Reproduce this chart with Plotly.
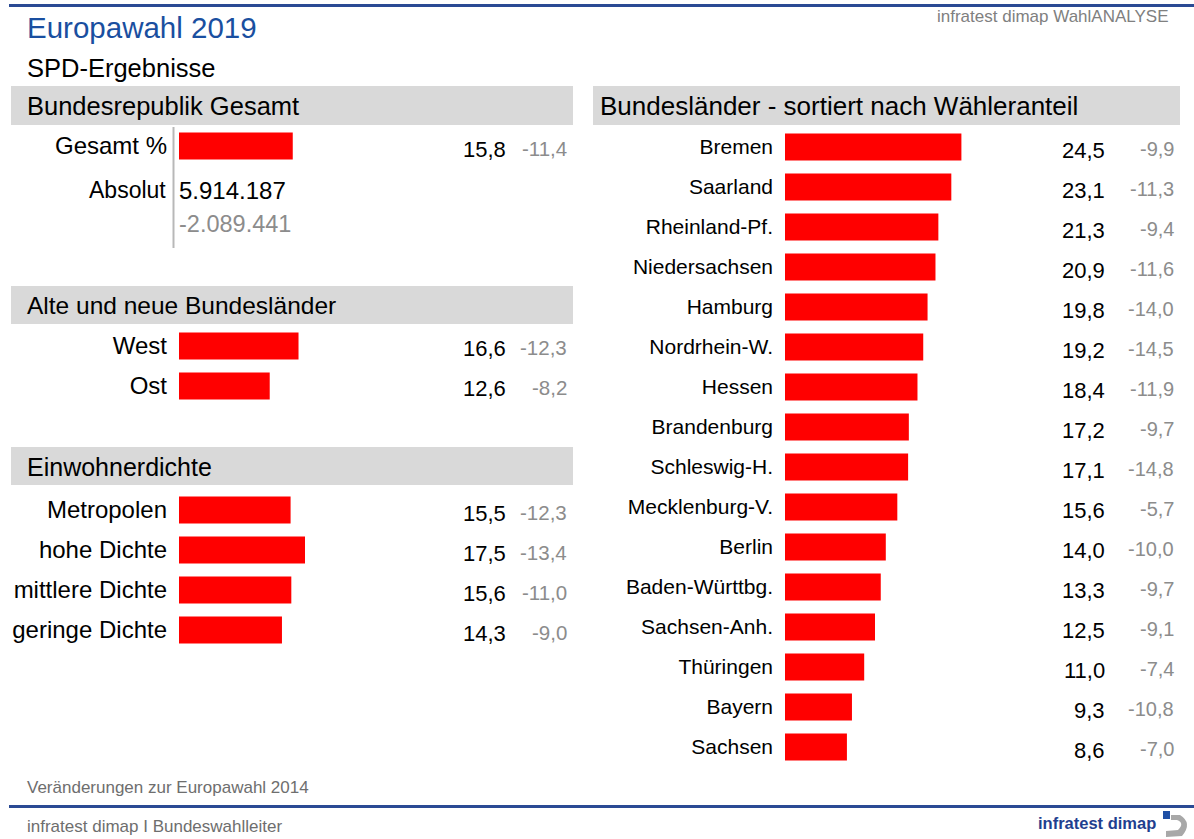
import plotly.graph_objects as go

# ---------------- data ----------------
gesamt_labels = ["Gesamt %"]
gesamt_values = [15.8]
gesamt_changes = [-11.4]
absolut_value = "5.914.187"
absolut_change = "-2.089.441"

ostwest_labels = ["West", "Ost"]
ostwest_values = [16.6, 12.6]
ostwest_changes = [-12.3, -8.2]

dichte_labels = ["Metropolen", "hohe Dichte", "mittlere Dichte", "geringe Dichte"]
dichte_values = [15.5, 17.5, 15.6, 14.3]
dichte_changes = [-12.3, -13.4, -11.0, -9.0]

laender_labels = ["Bremen", "Saarland", "Rheinland-Pf.", "Niedersachsen", "Hamburg",
                  "Nordrhein-W.", "Hessen", "Brandenburg", "Schleswig-H.",
                  "Mecklenburg-V.", "Berlin", "Baden-Württbg.", "Sachsen-Anh.",
                  "Thüringen", "Bayern", "Sachsen"]
laender_values = [24.5, 23.1, 21.3, 20.9, 19.8, 19.2, 18.4, 17.2, 17.1, 15.6,
                  14.0, 13.3, 12.5, 11.0, 9.3, 8.6]
laender_changes = [-9.9, -11.3, -9.4, -11.6, -14.0, -14.5, -11.9, -9.7, -14.8,
                   -5.7, -10.0, -9.7, -9.1, -7.4, -10.8, -7.0]

# ---------------- layout helpers ----------------
W, H = 1194, 839
FONT = "Liberation Sans, Arial, sans-serif"
RED = "#ff0000"
GREYBOX = "#d9d9d9"
GREYTXT = "#8c8c8c"
BLUE = "#2a4a94"


def px(x):
    return x / W


def py(y):
    return 1 - y / H


def fmt(v):
    return f"{v:.1f}".replace(".", ",")


fig = go.Figure()

XMAX = 40  # range of value axes

sections = [
    # labels, values, changes, ydomain px, x start px, value right px, change right px,
    # label size, value size, change size
    (gesamt_labels, gesamt_values, gesamt_changes, (126, 166), 179, 508, 569, 24, 22, 20.5),
    (ostwest_labels, ostwest_values, ostwest_changes, (326, 406), 179, 508, 569, 24, 22, 20.5),
    (dichte_labels, dichte_values, dichte_changes, (490, 650), 179, 508, 569, 24, 22, 20.5),
    (laender_labels, laender_values, laender_changes, (127, 767), 785, 1107, 1176, 21, 22, 20),
]

annotations = []
for i, (labels, values, changes, (ytop, ybot), x0, vx, cx, ls, vs, cs) in enumerate(sections):
    n = i + 1
    xa = "x" if n == 1 else f"x{n}"
    ya = "y" if n == 1 else f"y{n}"
    fig.add_trace(go.Bar(
        x=values, y=labels, orientation="h", xaxis=xa, yaxis=ya,
        marker=dict(color=RED, line=dict(width=0)), width=0.68,
        hoverinfo="skip", showlegend=False,
    ))
    xkey = "xaxis" if n == 1 else f"xaxis{n}"
    ykey = "yaxis" if n == 1 else f"yaxis{n}"
    fig.update_layout({
        xkey: dict(domain=[px(x0), px(x0 + 7.2 * XMAX)], range=[0, XMAX],
                   showgrid=False, zeroline=False, showline=False,
                   showticklabels=False, ticks="", anchor=ya, fixedrange=True),
        ykey: dict(domain=[py(ybot), py(ytop)], categoryorder="array",
                   categoryarray=labels, autorange="reversed",
                   showgrid=False, zeroline=False, showline=False, ticks="",
                   ticklabelstandoff=11, anchor=xa,
                   tickfont=dict(family=FONT, size=ls, color="#000000"),
                   fixedrange=True),
    })
    for lab, v, c in zip(labels, values, changes):
        annotations.append(dict(text=fmt(v), x=px(vx), xref="paper", xanchor="right",
                                y=lab, yref=ya, yshift=-3, showarrow=False,
                                font=dict(family=FONT, size=vs, color="#000000")))
        annotations.append(dict(text=fmt(c), x=px(cx), xref="paper", xanchor="right",
                                y=lab, yref=ya, yshift=-2, showarrow=False,
                                font=dict(family=FONT, size=cs, color=GREYTXT)))

# ---------------- static texts ----------------
def txt(text, x, y, size, color="#000000", xanchor="left", **kw):
    annotations.append(dict(text=text, x=px(x), y=py(y), xref="paper", yref="paper",
                            xanchor=xanchor, yanchor="middle", showarrow=False,
                            font=dict(family=FONT, size=size, color=color), **kw))

txt("Europawahl 2019", 25, 28, 29.5, color="#1a4fa0")
txt("SPD-Ergebnisse", 25, 68, 25.5)
txt("infratest dimap WahlANALYSE", 1170, 17, 17, color="#808080", xanchor="right")

# section header boxes
shapes = []
headers = [
    ("Bundesrepublik Gesamt", 11, 573, 86, 125, 25.5),
    ("Alte und neue Bundesländer", 11, 573, 286, 324, 24.5),
    ("Einwohnerdichte", 11, 573, 447, 485, 25),
    ("Bundesländer - sortiert nach Wähleranteil", 593, 1180, 86, 125, 26),
]
for text, x0, x1, y0, y1, fs in headers:
    shapes.append(dict(type="rect", xref="paper", yref="paper", x0=px(x0), x1=px(x1),
                       y0=py(y1), y1=py(y0), fillcolor=GREYBOX, line=dict(width=0),
                       layer="below"))
    txt(text, x0 + 14 if x0 < 100 else x0 + 5, (y0 + y1) / 2 + 1, fs)

# Gesamt absolute numbers
txt("Absolut", 168, 190, 23, xanchor="right")
txt(absolut_value, 177, 190, 24)
txt(absolut_change, 177, 224, 23.5, color=GREYTXT)
shapes.append(dict(type="line", xref="paper", yref="paper", x0=px(173.5), x1=px(173.5),
                   y0=py(248), y1=py(127), line=dict(color="#b8b8b8", width=2)))

# top / bottom rules
shapes.append(dict(type="line", xref="paper", yref="paper", x0=px(9), x1=1,
                   y0=py(5.5), y1=py(5.5), line=dict(color=BLUE, width=3)))
shapes.append(dict(type="line", xref="paper", yref="paper", x0=px(9), x1=1,
                   y0=py(806.5), y1=py(806.5), line=dict(color=BLUE, width=3)))

# footer
txt("Veränderungen zur Europawahl 2014", 25, 787, 17, color="#6e6e6e")
txt("infratest dimap I Bundeswahlleiter", 25, 826, 17, color="#6e6e6e")

# logo
txt("<b>infratest dimap</b>", 1158, 823, 16.5, color="#1f3f8f", xanchor="right")
shapes.append(dict(type="rect", xref="paper", yref="paper", x0=px(1163), x1=px(1170),
                   y0=py(819), y1=py(811), fillcolor="#1f4fa5", line=dict(width=0)))
arc = (f"M {px(1171)},{py(815)} L {px(1180)},{py(815)} "
       f"Q {px(1193)},{py(823)} {px(1182)},{py(836)} "
       f"L {px(1166)},{py(837)} L {px(1166)},{py(831)} L {px(1178)},{py(830)} "
       f"Q {px(1185)},{py(823)} {px(1177)},{py(820)} L {px(1171)},{py(820)} Z")
shapes.append(dict(type="path", xref="paper", yref="paper", path=arc,
                   fillcolor="#a8a8a8", line=dict(width=0)))

fig.update_layout(
    width=W, height=H, margin=dict(l=0, r=0, t=0, b=0),
    paper_bgcolor="white", plot_bgcolor="rgba(0,0,0,0)",
    annotations=annotations, shapes=shapes, bargap=0.3,
    font=dict(family=FONT),
)

fig.write_html("out.html", config={"displayModeBar": False},
               post_script="document.body.style.margin='0';document.body.style.overflow='hidden';")
